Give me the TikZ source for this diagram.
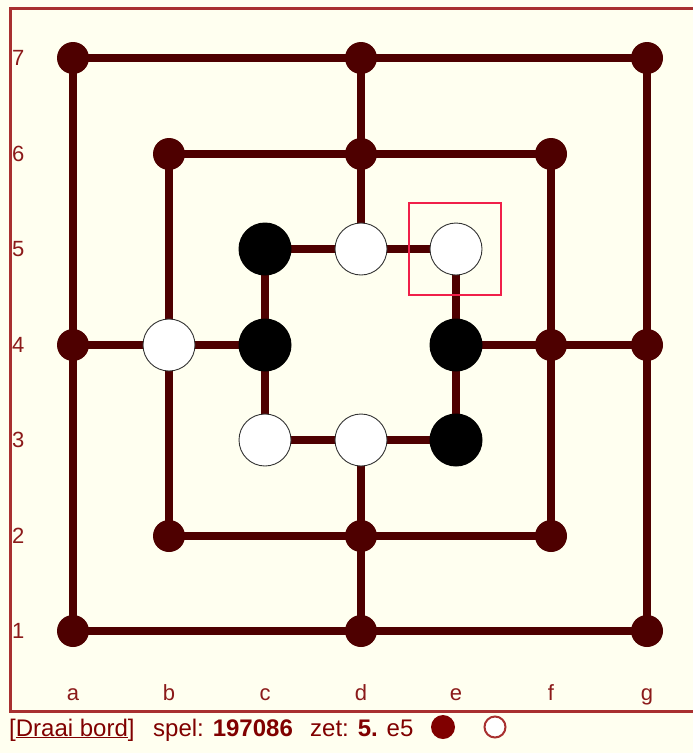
\documentclass[tikz,border=0pt]{standalone}
\usepackage{fontspec}
\setmainfont{Liberation Sans}
\definecolor{bg}{HTML}{FFFFF0}
\definecolor{frame}{HTML}{A83030}
\definecolor{linec}{HTML}{4E0000}
\definecolor{labc}{HTML}{8B1A1A}
\definecolor{txtc}{HTML}{800000}
\definecolor{hil}{HTML}{F0204A}
\begin{document}
\begin{tikzpicture}[x=1pt,y=-1pt,
  edge/.style={linec,line width=8pt},
  spot/.style={circle,fill=linec,minimum size=32pt,inner sep=0pt},
  wpiece/.style={circle,fill=white,draw=black!80,line width=0.9pt,minimum size=52pt,inner sep=0pt},
  bpiece/.style={circle,fill=black,minimum size=53pt,inner sep=0pt},
  lab/.style={labc,font=\fontsize{22}{24}\selectfont,inner sep=0pt},
  btxt/.style={txtc,font=\fontsize{24}{26}\selectfont,inner sep=0pt,anchor=base west}]
\useasboundingbox (0,0) rectangle (693,753);
\fill[bg] (0,0) rectangle (693,753);
\draw[frame,line width=3pt] (720,8) -- (10,8) -- (10,711) -- (720,711);
% grid coordinates
\foreach \c/\x in {a/73,b/169,c/265,d/361,e/456,f/551,g/647}{
  \foreach \r/\y in {7/58,6/154,5/249,4/345,3/440,2/536,1/631}{
    \coordinate (\c\r) at (\x,\y);
  }
}
% lines
\draw[edge] (a1) -- (a7) -- (g7) -- (g1) -- cycle;
\draw[edge] (b2) -- (b6) -- (f6) -- (f2) -- cycle;
\draw[edge] (c3) -- (c5) -- (e5) -- (e3) -- cycle;
\draw[edge] (d7) -- (d5);
\draw[edge] (d1) -- (d3);
\draw[edge] (a4) -- (c4);
\draw[edge] (e4) -- (g4);
% empty spots
\foreach \p in {a7,d7,g7,b6,d6,f6,a4,f4,g4,b2,d2,f2,a1,d1,g1}{
  \node[spot] (s\p) at (\p) {};
}
% pieces
\foreach \p in {b4,d5,e5,c3,d3}{ \node[wpiece] (w\p) at (\p) {}; }
\foreach \p in {c5,c4,e4,e3}{ \node[bpiece] (k\p) at (\p) {}; }
% highlight
\node[draw=hil,line width=2pt,minimum size=92pt,inner sep=0pt] (hl) at (455,249) {};
% row labels
\foreach \r/\y in {7/58,6/154,5/249,4/345,3/440,2/536,1/631}{
  \node[lab,anchor=west] (r\r) at (12,\y) {\r};
}
% column labels
\foreach \c/\x in {a/73,b/169,c/265,d/361,e/456,f/551,g/647}{
  \node[lab,anchor=base] (l\c) at (\x,700) {\c};
}
% bottom line
\node[btxt] (draai) at (9,736) {[\underline{Draai bord}]};
\node[btxt] (spel) at (153,736) {spel: \textbf{197086}};
\node[btxt] (zet) at (310,736) {zet: \textbf{5.} e5};
\node[circle,fill=txtc,minimum size=24pt,inner sep=0pt] (cb) at (443,727) {};
\node[circle,draw=frame,line width=2pt,fill=white,minimum size=21pt,inner sep=0pt] (cw) at (495,727) {};
\end{tikzpicture}
\end{document}
